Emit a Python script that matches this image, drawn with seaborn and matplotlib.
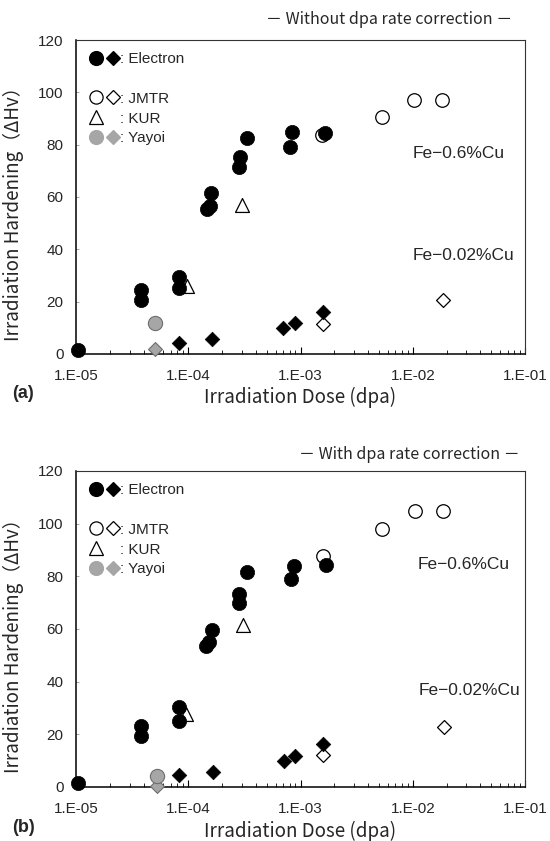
import numpy as np
import pandas as pd
import matplotlib
matplotlib.use("Agg")
import matplotlib.pyplot as plt
import seaborn as sns
from matplotlib.lines import Line2D
from matplotlib.legend_handler import HandlerTuple
from matplotlib.ticker import FixedLocator, FuncFormatter, LogLocator, NullFormatter

sns.set_theme(style="white")
plt.rcParams['font.family'] = ['Noto Sans CJK JP', 'DejaVu Sans']
tick_font = ['Liberation Sans', 'DejaVu Sans']

# (a) without dpa rate correction
elec_cu06_dose_a = [1.05e-5, 3.8e-5, 3.8e-5, 8.3e-5, 8.3e-5, 1.48e-4, 1.55e-4, 1.6e-4, 2.83e-4, 2.9e-4, 3.36e-4, 8.1e-4, 8.4e-4, 1.67e-3]
elec_cu06_dhv_a = [1.5, 20.6, 24.5, 25.1, 29.5, 55.5, 56.5, 61.4, 71.3, 75.4, 82.4, 79.2, 84.9, 84.6]
elec_cu002_dose_a = [8.3e-5, 1.64e-4, 7.0e-4, 8.9e-4, 1.58e-3]
elec_cu002_dhv_a = [4.3, 5.6, 9.8, 11.7, 15.9]
jmtr_cu06_dose_a = [1.57e-3, 5.3e-3, 1.02e-2, 1.84e-2]
jmtr_cu06_dhv_a = [83.7, 90.7, 97.1, 97.1]
jmtr_cu002_dose_a = [1.6e-3, 1.86e-2]
jmtr_cu002_dhv_a = [11.3, 20.5]
kur_dose_a = [9.7e-5, 3.03e-4]
kur_dhv_a = [26.0, 56.9]
yayoi_cu06_dose_a = [5.1e-5]
yayoi_cu06_dhv_a = [12.0]
yayoi_cu002_dose_a = [5.1e-5]
yayoi_cu002_dhv_a = [1.9]

# (b) with dpa rate correction
elec_cu06_dose_b = [1.04e-5, 3.8e-5, 3.8e-5, 8.3e-5, 8.3e-5, 1.45e-4, 1.52e-4, 1.64e-4, 2.81e-4, 2.86e-4, 3.37e-4, 8.3e-4, 8.7e-4, 1.7e-3]
elec_cu06_dhv_b = [1.6, 19.4, 23.2, 25.1, 30.2, 53.5, 55.0, 59.8, 69.9, 73.4, 81.8, 78.8, 83.9, 84.3]
elec_cu002_dose_b = [8.3e-5, 1.66e-4, 7.06e-4, 8.87e-4, 1.6e-3]
elec_cu002_dhv_b = [4.4, 5.7, 9.9, 11.8, 16.2]
jmtr_cu06_dose_b = [1.58e-3, 5.37e-3, 1.05e-2, 1.87e-2]
jmtr_cu06_dhv_b = [87.8, 97.8, 104.7, 104.9]
jmtr_cu002_dose_b = [1.6e-3, 1.9e-2]
jmtr_cu002_dhv_b = [12.0, 22.9]
kur_dose_b = [9.5e-5, 3.09e-4]
kur_dhv_b = [27.7, 61.4]
yayoi_cu06_dose_b = [5.25e-5]
yayoi_cu06_dhv_b = [4.1]
yayoi_cu002_dose_b = [5.25e-5]
yayoi_cu002_dhv_b = [0.3]

series_names = ['KUR', 'JMTR Fe-0.6Cu', 'JMTR Fe-0.02Cu', 'Yayoi Fe-0.02Cu',
                'Yayoi Fe-0.6Cu', 'Electron Fe-0.02Cu', 'Electron Fe-0.6Cu']

panel_a = {
    'KUR': (kur_dose_a, kur_dhv_a),
    'JMTR Fe-0.6Cu': (jmtr_cu06_dose_a, jmtr_cu06_dhv_a),
    'JMTR Fe-0.02Cu': (jmtr_cu002_dose_a, jmtr_cu002_dhv_a),
    'Yayoi Fe-0.02Cu': (yayoi_cu002_dose_a, yayoi_cu002_dhv_a),
    'Yayoi Fe-0.6Cu': (yayoi_cu06_dose_a, yayoi_cu06_dhv_a),
    'Electron Fe-0.02Cu': (elec_cu002_dose_a, elec_cu002_dhv_a),
    'Electron Fe-0.6Cu': (elec_cu06_dose_a, elec_cu06_dhv_a),
}
panel_b = {
    'KUR': (kur_dose_b, kur_dhv_b),
    'JMTR Fe-0.6Cu': (jmtr_cu06_dose_b, jmtr_cu06_dhv_b),
    'JMTR Fe-0.02Cu': (jmtr_cu002_dose_b, jmtr_cu002_dhv_b),
    'Yayoi Fe-0.02Cu': (yayoi_cu002_dose_b, yayoi_cu002_dhv_b),
    'Yayoi Fe-0.6Cu': (yayoi_cu06_dose_b, yayoi_cu06_dhv_b),
    'Electron Fe-0.02Cu': (elec_cu002_dose_b, elec_cu002_dhv_b),
    'Electron Fe-0.6Cu': (elec_cu06_dose_b, elec_cu06_dhv_b),
}

grey = '#a6a6a6'
grey_edge = '#6e6e6e'
styles = {
    'KUR': dict(marker='^', s=100, color='white', edgecolor='black', linewidth=0.9),
    'JMTR Fe-0.6Cu': dict(marker='o', s=95, color='white', edgecolor='black', linewidth=0.9),
    'JMTR Fe-0.02Cu': dict(marker='D', s=50, color='white', edgecolor='black', linewidth=0.9),
    'Yayoi Fe-0.02Cu': dict(marker='D', s=50, color=grey, edgecolor=grey_edge, linewidth=0.8),
    'Yayoi Fe-0.6Cu': dict(marker='o', s=105, color=grey, edgecolor=grey_edge, linewidth=0.8),
    'Electron Fe-0.02Cu': dict(marker='D', s=55, color='black', edgecolor='black', linewidth=0.5),
    'Electron Fe-0.6Cu': dict(marker='o', s=105, color='black', edgecolor='black', linewidth=0.5),
}


def fmt_dose(v, pos):
    e = int(np.round(np.log10(v)))
    return f"1.E{e:+03d}".replace('+', '')


def legend_handles():
    def mk(marker, fc, ec, ms):
        return Line2D([], [], ls='', marker=marker, markerfacecolor=fc,
                      markeredgecolor=ec, markersize=ms, markeredgewidth=0.9)
    blank = Line2D([], [], ls='', marker=None)
    handles = [
        (mk('o', 'black', 'black', 10), mk('D', 'black', 'black', 7.5)),
        (blank,),
        (mk('o', 'white', 'black', 9.5), mk('D', 'white', 'black', 7)),
        (mk('^', 'white', 'black', 9.5), blank),
        (mk('o', grey, grey, 10), mk('D', grey, grey, 7)),
    ]
    labels = [': Electron', ' ', ': JMTR', ': KUR', ': Yayoi']
    return handles, labels


def draw_panel(ax, panel, title, title_x, title_y, label, label_y, txt06, txt002):
    rows = []
    for name in series_names:
        dose, dhv = panel[name]
        for d, h in zip(dose, dhv):
            rows.append({'dose': d, 'dhv': h, 'series': name})
    df = pd.DataFrame(rows)

    for z, name in enumerate(series_names):
        sub = df[df['series'] == name]
        sns.scatterplot(data=sub, x='dose', y='dhv', ax=ax, clip_on=False,
                        zorder=3 + z, legend=False, **styles[name])

    ax.set_xscale('log')
    ax.set_xlim(1e-5, 1e-1)
    ax.set_ylim(0, 120)
    ax.xaxis.set_major_locator(FixedLocator([1e-5, 1e-4, 1e-3, 1e-2, 1e-1]))
    ax.xaxis.set_major_formatter(FuncFormatter(fmt_dose))
    ax.xaxis.set_minor_locator(LogLocator(base=10, subs=np.arange(2, 10)))
    ax.xaxis.set_minor_formatter(NullFormatter())
    ax.set_yticks(np.arange(0, 121, 20))

    ax.tick_params(axis='x', which='major', direction='in', length=5, width=0.8,
                   color='black', pad=11, labelsize=11)
    ax.tick_params(axis='x', which='minor', direction='in', length=3, width=0.6,
                   color='black')
    ax.tick_params(axis='y', direction='in', length=2.5, width=0.6, color='#999999',
                   pad=9, labelsize=11)
    ax.tick_params(bottom=True, left=True, which='both')
    for t in ax.get_xticklabels() + ax.get_yticklabels():
        t.set_family(tick_font)

    for side in ['left', 'bottom']:
        ax.spines[side].set_color('black')
        ax.spines[side].set_linewidth(1.1)
    for side in ['top', 'right']:
        ax.spines[side].set_color('#333333')
        ax.spines[side].set_linewidth(0.8)

    ax.set_xlabel('Irradiation Dose (dpa)', fontsize=13.5)
    ax.xaxis.set_label_coords(0.5, -0.106)
    ax.set_ylabel('Irradiation Hardening（ΔHv）', fontsize=13.5)
    ax.yaxis.set_label_coords(-0.116, 0.462)

    ax.text(txt06[0], txt06[1], 'Fe−0.6%Cu', fontsize=12.5, va='center', ha='left',
            family=tick_font)
    ax.text(txt002[0], txt002[1], 'Fe−0.02%Cu', fontsize=12.5, va='center', ha='left',
            family=tick_font)

    handles, labels = legend_handles()
    ax.legend(handles, labels, handler_map={tuple: HandlerTuple(ndivide=None, pad=0.1)},
              loc='upper left', bbox_to_anchor=(0.0, 1.0), frameon=False,
              prop={'family': tick_font, 'size': 11}, handlelength=2.1,
              handletextpad=0.0, labelspacing=0.38, borderaxespad=0.5, borderpad=0.3)

    fig.text(title_x, title_y, title, fontsize=11.5, ha='right', va='center')
    fig.text(12 / 550, label_y, label, fontsize=13, fontweight='bold',
             ha='left', va='center', family=tick_font)


fig = plt.figure(figsize=(5.5, 8.41), dpi=100)
ax_a = fig.add_axes([76 / 550, 1 - 354 / 841, 449 / 550, 314 / 841])
ax_b = fig.add_axes([76 / 550, 1 - 787 / 841, 449 / 550, 316 / 841])

draw_panel(ax_a, panel_a, '－ Without dpa rate correction －', 512 / 550, 1 - 20 / 841,
           '(a)', 1 - 393 / 841, (1.0e-2, 76.8), (1.0e-2, 37.8))
draw_panel(ax_b, panel_b, '－ With dpa rate correction －', 520 / 550, 1 - 455 / 841,
           '(b)', 1 - 828 / 841, (1.1e-2, 84.6), (1.12e-2, 36.6))

fig.savefig('out.png', dpi=100, facecolor='white')
